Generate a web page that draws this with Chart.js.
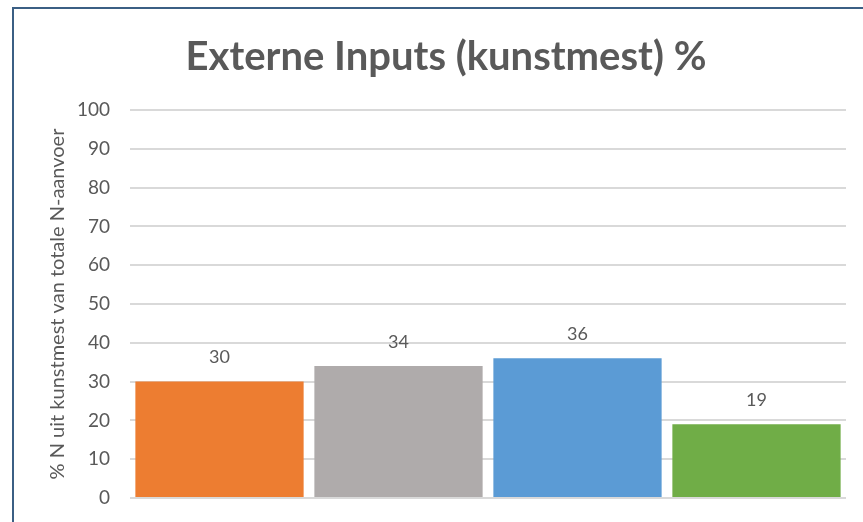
<!DOCTYPE html>
<html>
<head>
<meta charset="utf-8">
<script src="https://cdn.jsdelivr.net/npm/chart.js@4"></script>
<style>
  html, body { margin: 0; padding: 0; background: #fff; overflow: hidden; }
  #wrap { position: relative; width: 863px; height: 522px; }
  #frame { position: absolute; left: 12px; top: 7px; width: 900px; height: 600px;
           border-left: 2px solid #3b5f84; border-top: 2px solid #3b5f84; pointer-events: none; }
</style>
</head>
<body>
<div id="wrap">
  <canvas id="chart" width="863" height="522"></canvas>
  <div id="frame"></div>
</div>
<script>
const categories = ["1", "2", "3", "4"];
const values = [30, 34, 36, 19];
const barColors = ["#ED7D31", "#AFABAB", "#5B9BD5", "#70AD47"];
const yTicks = [0, 10, 20, 30, 40, 50, 60, 70, 80, 90, 100];

// draws the value above each bar
const valueLabels = {
  id: "valueLabels",
  afterDatasetsDraw(chart) {
    const ctx = chart.ctx;
    const meta = chart.getDatasetMeta(0);
    ctx.save();
    ctx.font = "18px Lato, 'Open Sans', sans-serif";
    ctx.fillStyle = "#595959";
    ctx.textAlign = "center";
    ctx.textBaseline = "bottom";
    meta.data.forEach((bar, i) => {
      ctx.fillText(values[i], bar.x, bar.y - 15);
    });
    ctx.restore();
  },
};

function initializeChart() {
  const ctx = document.getElementById("chart").getContext("2d");
  new Chart(ctx, {
    type: "bar",
    data: {
      labels: categories,
      datasets: [
        {
          data: values,
          backgroundColor: barColors,
          barPercentage: 0.94,
          categoryPercentage: 1,
        },
      ],
    },
    options: {
      responsive: false,
      animation: false,
      layout: { padding: { left: 46, right: 17, top: 23, bottom: 24 } },
      plugins: {
        legend: { display: false },
        tooltip: { enabled: false },
        title: {
          display: true,
          text: "Externe Inputs (kunstmest) %",
          color: "#595959",
          font: { family: "Lato, 'Open Sans', sans-serif", size: 40, weight: "bold" },
          padding: { top: 10, bottom: 29 },
        },
      },
      scales: {
        x: {
          display: false,
        },
        y: {
          min: 0,
          max: 100,
          afterBuildTicks: (axis) => {
            axis.ticks = yTicks.map((v) => ({ value: v }));
          },
          afterFit: (axis) => {
            axis.width = 84;
            axis.paddingTop = 0;
            axis.paddingBottom = 0;
          },
          ticks: {
            color: "#595959",
            padding: 20,
            font: { family: "Lato, 'Open Sans', sans-serif", size: 19 },
          },
          grid: { color: "#D9D9D9", lineWidth: 2, drawTicks: false },
          border: { display: false },
          title: {
            display: true,
            text: "% N uit kunstmest van totale N-aanvoer",
            color: "#595959",
            font: { family: "Lato, 'Open Sans', sans-serif", size: 20 },
            padding: { top: 0, bottom: 0 },
          },
        },
      },
    },
    plugins: [valueLabels],
  });
}

document.addEventListener("DOMContentLoaded", () => {
  initializeChart();
});
</script>
</body>
</html>
